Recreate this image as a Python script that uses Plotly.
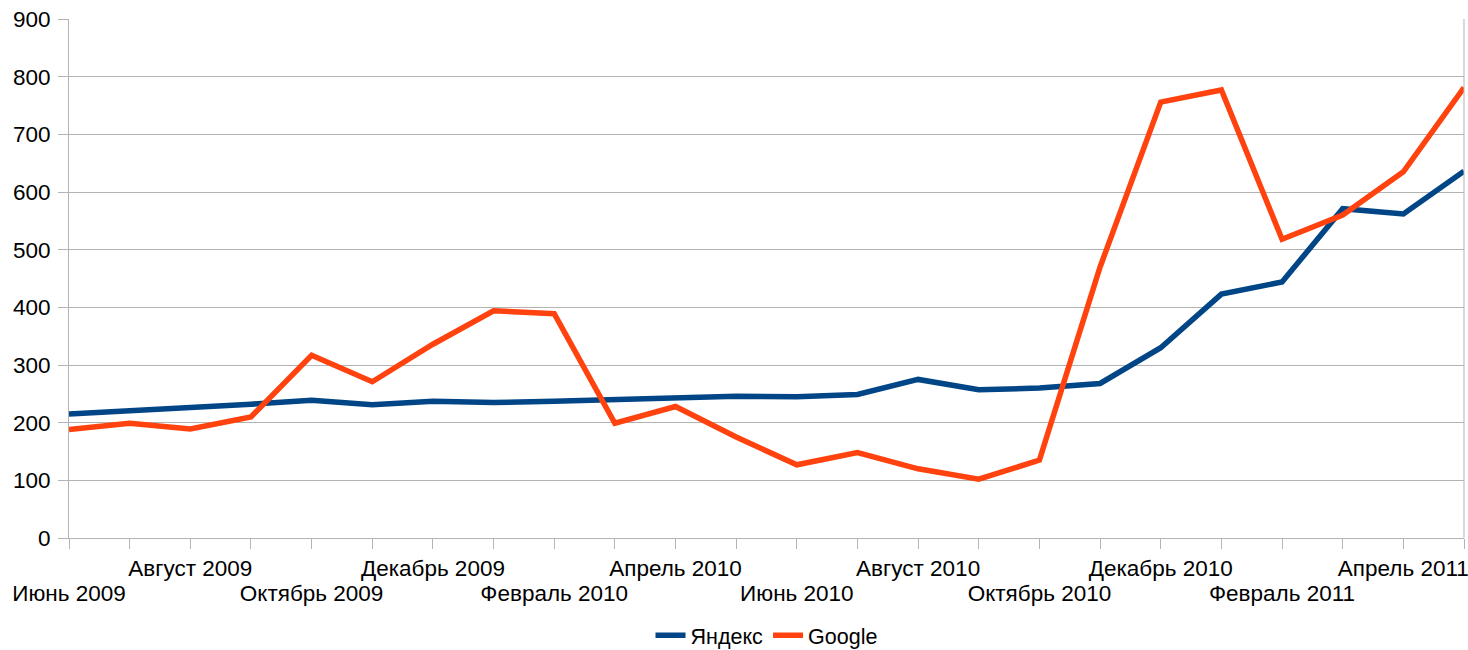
import plotly.graph_objects as go

months = ["Июнь 2009", "Июль 2009", "Август 2009", "Сентябрь 2009", "Октябрь 2009", "Ноябрь 2009",
          "Декабрь 2009", "Январь 2010", "Февраль 2010", "Март 2010", "Апрель 2010", "Май 2010",
          "Июнь 2010", "Июль 2010", "Август 2010", "Сентябрь 2010", "Октябрь 2010", "Ноябрь 2010",
          "Декабрь 2010", "Январь 2011", "Февраль 2011", "Март 2011", "Апрель 2011", "Май 2011"]
yandex = [215, 220, 225, 232, 239, 231, 237, 235, 237, 240, 243, 246,
          245, 249, 275, 257, 260, 268, 330, 423, 444, 571, 562, 636]
google = [188, 199, 189, 210, 317, 271, 336, 394, 389, 199, 228, 175,
          127, 148, 120, 102, 135, 470, 756, 777, 518, 560, 635, 781]

idx = list(range(len(months)))
row1_vals = [i for i in idx if i % 4 == 2]
row2_vals = [i for i in idx if i % 4 == 0]

FONT = "Liberation Sans, Arial, sans-serif"
FS = 22.5
GRID = "#b3b3b3"

fig = go.Figure()
fig.add_trace(go.Scatter(x=idx, y=yandex, mode="lines", name="Яндекс",
                         line=dict(color="#004586", width=5.5)))
fig.add_trace(go.Scatter(x=idx, y=google, mode="lines", name="Google",
                         line=dict(color="#FF420E", width=5.5)))

fig.update_layout(
    width=1468, height=650,
    margin=dict(l=69, r=4, t=19, b=112, autoexpand=False),
    plot_bgcolor="white", paper_bgcolor="white",
    font=dict(family=FONT, size=FS, color="#000000"),
    showlegend=True,
    legend=dict(orientation="h", x=0.5, xanchor="center", y=-0.148, yanchor="top",
                font=dict(size=21.5), itemwidth=30),
    xaxis=dict(range=[0, len(months) - 1], tickmode="array", tickvals=idx,
               ticktext=[months[i] if i in row1_vals else "" for i in idx],
               showgrid=False, zeroline=False, showline=True, linecolor=GRID, linewidth=1,
               ticks="outside", ticklen=10, tickcolor=GRID, tickangle=0,
               ticklabelstandoff=0, automargin=False, ticklabeloverflow="allow"),
    xaxis2=dict(range=[0, len(months) - 1], overlaying="x", side="bottom", anchor="y",
                tickmode="array", tickvals=row2_vals, ticktext=[months[i] for i in row2_vals],
                showgrid=False, zeroline=False, showline=False, ticks="", tickangle=0,
                ticklabelstandoff=39, automargin=False, ticklabeloverflow="allow"),
    yaxis=dict(range=[0, 900], dtick=100, showgrid=True, gridcolor=GRID, gridwidth=1,
               zeroline=False, showline=True, linecolor=GRID, linewidth=1,
               ticks="outside", ticklen=10, tickcolor=GRID, ticklabelstandoff=3,
               automargin=False),
)
fig.add_trace(go.Scatter(x=[0], y=[None], xaxis="x2", showlegend=False, hoverinfo="skip"))
fig.add_shape(type="line", xref="paper", yref="paper", x0=1, x1=1, y0=0, y1=1,
              line=dict(color=GRID, width=1))

fig.write_html("out.html", config={"displayModeBar": False},
               post_script="document.body.style.margin='0';document.body.style.overflow='hidden';")
